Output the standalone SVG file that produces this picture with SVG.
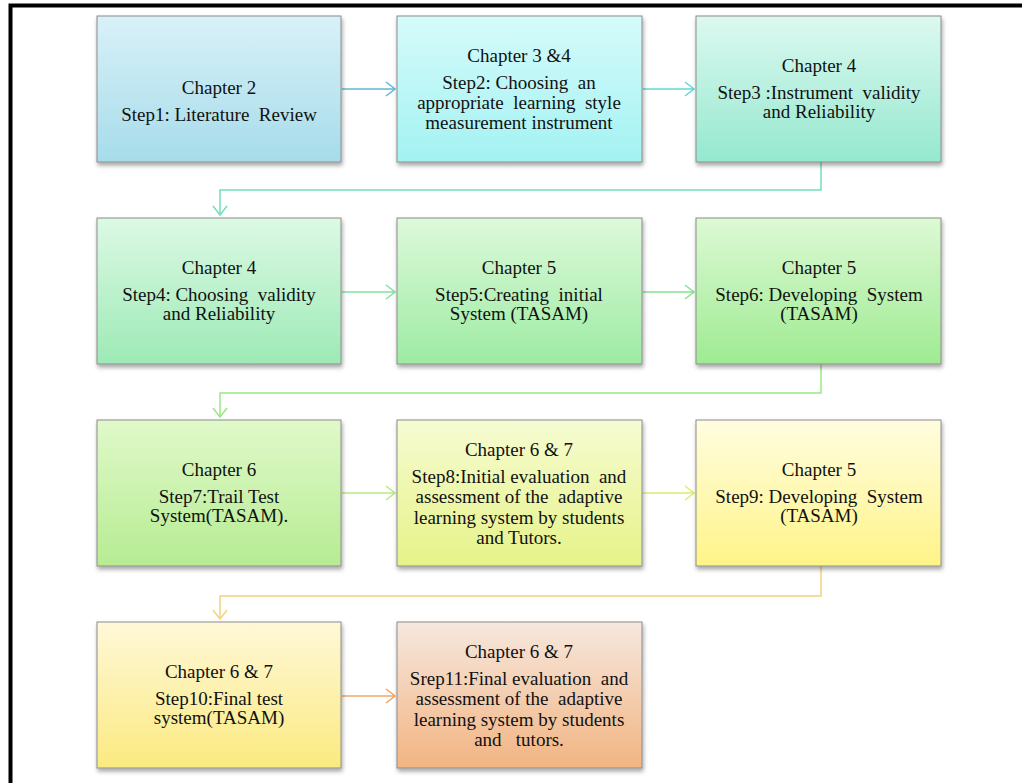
<svg xmlns="http://www.w3.org/2000/svg" width="1022" height="783" viewBox="0 0 1022 783">
  <style>
    .box { stroke: #8c8c8c; stroke-width: 1; filter: url(#shadow); }
    .t { font-family: 'Liberation Serif', serif; font-size: 19px; fill: #111; text-anchor: middle; white-space: pre; }
    .ln { fill: none; stroke-width: 1.5; }
    .frame { fill: none; stroke: #000; stroke-width: 4; }
  </style>
  <defs>
    <filter id="shadow" x="-5%" y="-5%" width="115%" height="120%">
      <feDropShadow dx="1" dy="3" stdDeviation="2" flood-color="#000" flood-opacity="0.35"/>
    </filter>
    <linearGradient id="g1" x1="0" y1="0" x2="0" y2="1"><stop offset="0" stop-color="#d9f1f8"/><stop offset="1" stop-color="#a6dcea"/></linearGradient>
    <linearGradient id="g2" x1="0" y1="0" x2="0" y2="1"><stop offset="0" stop-color="#d6fbfb"/><stop offset="1" stop-color="#a3f2f2"/></linearGradient>
    <linearGradient id="g3" x1="0" y1="0" x2="0" y2="1"><stop offset="0" stop-color="#dcf9f0"/><stop offset="1" stop-color="#95e8cf"/></linearGradient>
    <linearGradient id="g4" x1="0" y1="0" x2="0" y2="1"><stop offset="0" stop-color="#dcf9e4"/><stop offset="1" stop-color="#9deab6"/></linearGradient>
    <linearGradient id="g5" x1="0" y1="0" x2="0" y2="1"><stop offset="0" stop-color="#ddf9da"/><stop offset="1" stop-color="#9deba3"/></linearGradient>
    <linearGradient id="g6" x1="0" y1="0" x2="0" y2="1"><stop offset="0" stop-color="#ddf9d4"/><stop offset="1" stop-color="#9eeb92"/></linearGradient>
    <linearGradient id="g7" x1="0" y1="0" x2="0" y2="1"><stop offset="0" stop-color="#e0f9ca"/><stop offset="1" stop-color="#b6ec92"/></linearGradient>
    <linearGradient id="g8" x1="0" y1="0" x2="0" y2="1"><stop offset="0" stop-color="#f6fcd2"/><stop offset="1" stop-color="#e6f288"/></linearGradient>
    <linearGradient id="g9" x1="0" y1="0" x2="0" y2="1"><stop offset="0" stop-color="#fffde0"/><stop offset="1" stop-color="#fff488"/></linearGradient>
    <linearGradient id="g10" x1="0" y1="0" x2="0" y2="1"><stop offset="0" stop-color="#fff8d8"/><stop offset="1" stop-color="#fbea80"/></linearGradient>
    <linearGradient id="g11" x1="0" y1="0" x2="0" y2="1"><stop offset="0" stop-color="#f6e8de"/><stop offset="1" stop-color="#f2b482"/></linearGradient>
    <!-- open chevron heads, one per connector colour -->
    <marker id="m1" markerUnits="userSpaceOnUse" markerWidth="14" markerHeight="18" refX="10" refY="8" orient="auto"><path d="M1,1 L10,8 L1,15" fill="none" stroke="#5fb8d6" stroke-width="1.5"/></marker>
    <marker id="m2" markerUnits="userSpaceOnUse" markerWidth="14" markerHeight="18" refX="10" refY="8" orient="auto"><path d="M1,1 L10,8 L1,15" fill="none" stroke="#5fd8d4" stroke-width="1.5"/></marker>
    <marker id="m3" markerUnits="userSpaceOnUse" markerWidth="14" markerHeight="18" refX="10" refY="8" orient="auto"><path d="M1,1 L10,8 L1,15" fill="none" stroke="#72dfb6" stroke-width="1.5"/></marker>
    <marker id="m4" markerUnits="userSpaceOnUse" markerWidth="14" markerHeight="18" refX="10" refY="8" orient="auto"><path d="M1,1 L10,8 L1,15" fill="none" stroke="#7fe2a2" stroke-width="1.5"/></marker>
    <marker id="m5" markerUnits="userSpaceOnUse" markerWidth="14" markerHeight="18" refX="10" refY="8" orient="auto"><path d="M1,1 L10,8 L1,15" fill="none" stroke="#86e28e" stroke-width="1.5"/></marker>
    <marker id="m6" markerUnits="userSpaceOnUse" markerWidth="14" markerHeight="18" refX="10" refY="8" orient="auto"><path d="M1,1 L10,8 L1,15" fill="none" stroke="#9ae886" stroke-width="1.5"/></marker>
    <marker id="m7" markerUnits="userSpaceOnUse" markerWidth="14" markerHeight="18" refX="10" refY="8" orient="auto"><path d="M1,1 L10,8 L1,15" fill="none" stroke="#b5ea82" stroke-width="1.5"/></marker>
    <marker id="m8" markerUnits="userSpaceOnUse" markerWidth="14" markerHeight="18" refX="10" refY="8" orient="auto"><path d="M1,1 L10,8 L1,15" fill="none" stroke="#d8ee6e" stroke-width="1.5"/></marker>
    <marker id="m9" markerUnits="userSpaceOnUse" markerWidth="14" markerHeight="18" refX="10" refY="8" orient="auto"><path d="M1,1 L10,8 L1,15" fill="none" stroke="#f5d27e" stroke-width="1.5"/></marker>
    <marker id="m10" markerUnits="userSpaceOnUse" markerWidth="14" markerHeight="18" refX="10" refY="8" orient="auto"><path d="M1,1 L10,8 L1,15" fill="none" stroke="#f0a466" stroke-width="1.5"/></marker>
  </defs>

  <rect width="1022" height="783" fill="#fff"/>
  <!-- page frame: top and left edges -->
  <path class="frame" d="M10.5,783 V5.5 H1022"/>

  <g id="connectors">
    <path class="ln" stroke="#5fb8d6" d="M342,89 H395" marker-end="url(#m1)"/>
    <path class="ln" stroke="#5fd8d4" d="M643,89 H694" marker-end="url(#m2)"/>
    <path class="ln" stroke="#72dfb6" d="M821,162 V190 H220 V215" marker-end="url(#m3)"/>
    <path class="ln" stroke="#7fe2a2" d="M342,292 H395" marker-end="url(#m4)"/>
    <path class="ln" stroke="#86e28e" d="M643,292 H694" marker-end="url(#m5)"/>
    <path class="ln" stroke="#9ae886" d="M821,364 V393 H220 V417" marker-end="url(#m6)"/>
    <path class="ln" stroke="#b5ea82" d="M342,493 H395" marker-end="url(#m7)"/>
    <path class="ln" stroke="#d8ee6e" d="M643,493 H694" marker-end="url(#m8)"/>
    <path class="ln" stroke="#f5d27e" d="M821,566 V596 H220 V619" marker-end="url(#m9)"/>
    <path class="ln" stroke="#f0a466" d="M342,696 H395" marker-end="url(#m10)"/>
  </g>

  <g id="step1">
    <rect class="box" x="97" y="16" width="244" height="146" fill="url(#g1)"/>
    <text class="t" x="219" y="94">Chapter 2</text>
    <text class="t" x="219" y="121">Step1: Literature  Review</text>
  </g>
  <g id="step2">
    <rect class="box" x="397" y="16" width="245" height="146" fill="url(#g2)"/>
    <text class="t" x="519" y="62">Chapter 3 &amp;4</text>
    <text class="t" x="519" y="89">Step2: Choosing  an</text>
    <text class="t" x="519" y="109">appropriate  learning  style</text>
    <text class="t" x="519" y="129">measurement instrument</text>
  </g>
  <g id="step3">
    <rect class="box" x="696" y="16" width="245" height="146" fill="url(#g3)"/>
    <text class="t" x="819" y="72">Chapter 4</text>
    <text class="t" x="819" y="99">Step3 :Instrument  validity</text>
    <text class="t" x="819" y="118">and Reliability</text>
  </g>

  <g id="step4">
    <rect class="box" x="97" y="218" width="244" height="146" fill="url(#g4)"/>
    <text class="t" x="219" y="274">Chapter 4</text>
    <text class="t" x="219" y="301">Step4: Choosing  validity</text>
    <text class="t" x="219" y="320">and Reliability</text>
  </g>
  <g id="step5">
    <rect class="box" x="397" y="218" width="245" height="146" fill="url(#g5)"/>
    <text class="t" x="519" y="274">Chapter 5</text>
    <text class="t" x="519" y="301">Step5:Creating  initial</text>
    <text class="t" x="519" y="320">System (TASAM)</text>
  </g>
  <g id="step6">
    <rect class="box" x="696" y="218" width="245" height="146" fill="url(#g6)"/>
    <text class="t" x="819" y="274">Chapter 5</text>
    <text class="t" x="819" y="301">Step6: Developing  System</text>
    <text class="t" x="819" y="320">(TASAM)</text>
  </g>

  <g id="step7">
    <rect class="box" x="97" y="420" width="244" height="146" fill="url(#g7)"/>
    <text class="t" x="219" y="476">Chapter 6</text>
    <text class="t" x="219" y="503">Step7:Trail Test</text>
    <text class="t" x="219" y="522">System(TASAM).</text>
  </g>
  <g id="step8">
    <rect class="box" x="397" y="420" width="245" height="146" fill="url(#g8)"/>
    <text class="t" x="519" y="456">Chapter 6 &amp; 7</text>
    <text class="t" x="519" y="483">Step8:Initial evaluation  and</text>
    <text class="t" x="519" y="503">assessment of the  adaptive</text>
    <text class="t" x="519" y="524">learning system by students</text>
    <text class="t" x="519" y="544">and Tutors.</text>
  </g>
  <g id="step9">
    <rect class="box" x="696" y="420" width="245" height="146" fill="url(#g9)"/>
    <text class="t" x="819" y="476">Chapter 5</text>
    <text class="t" x="819" y="503">Step9: Developing  System</text>
    <text class="t" x="819" y="522">(TASAM)</text>
  </g>

  <g id="step10">
    <rect class="box" x="97" y="622" width="244" height="146" fill="url(#g10)"/>
    <text class="t" x="219" y="678">Chapter 6 &amp; 7</text>
    <text class="t" x="219" y="705">Step10:Final test</text>
    <text class="t" x="219" y="724">system(TASAM)</text>
  </g>
  <g id="step11">
    <rect class="box" x="397" y="622" width="245" height="146" fill="url(#g11)"/>
    <text class="t" x="519" y="658">Chapter 6 &amp; 7</text>
    <text class="t" x="519" y="685">Srep11:Final evaluation  and</text>
    <text class="t" x="519" y="705">assessment of the  adaptive</text>
    <text class="t" x="519" y="726">learning system by students</text>
    <text class="t" x="519" y="746">and   tutors.</text>
  </g>
</svg>
